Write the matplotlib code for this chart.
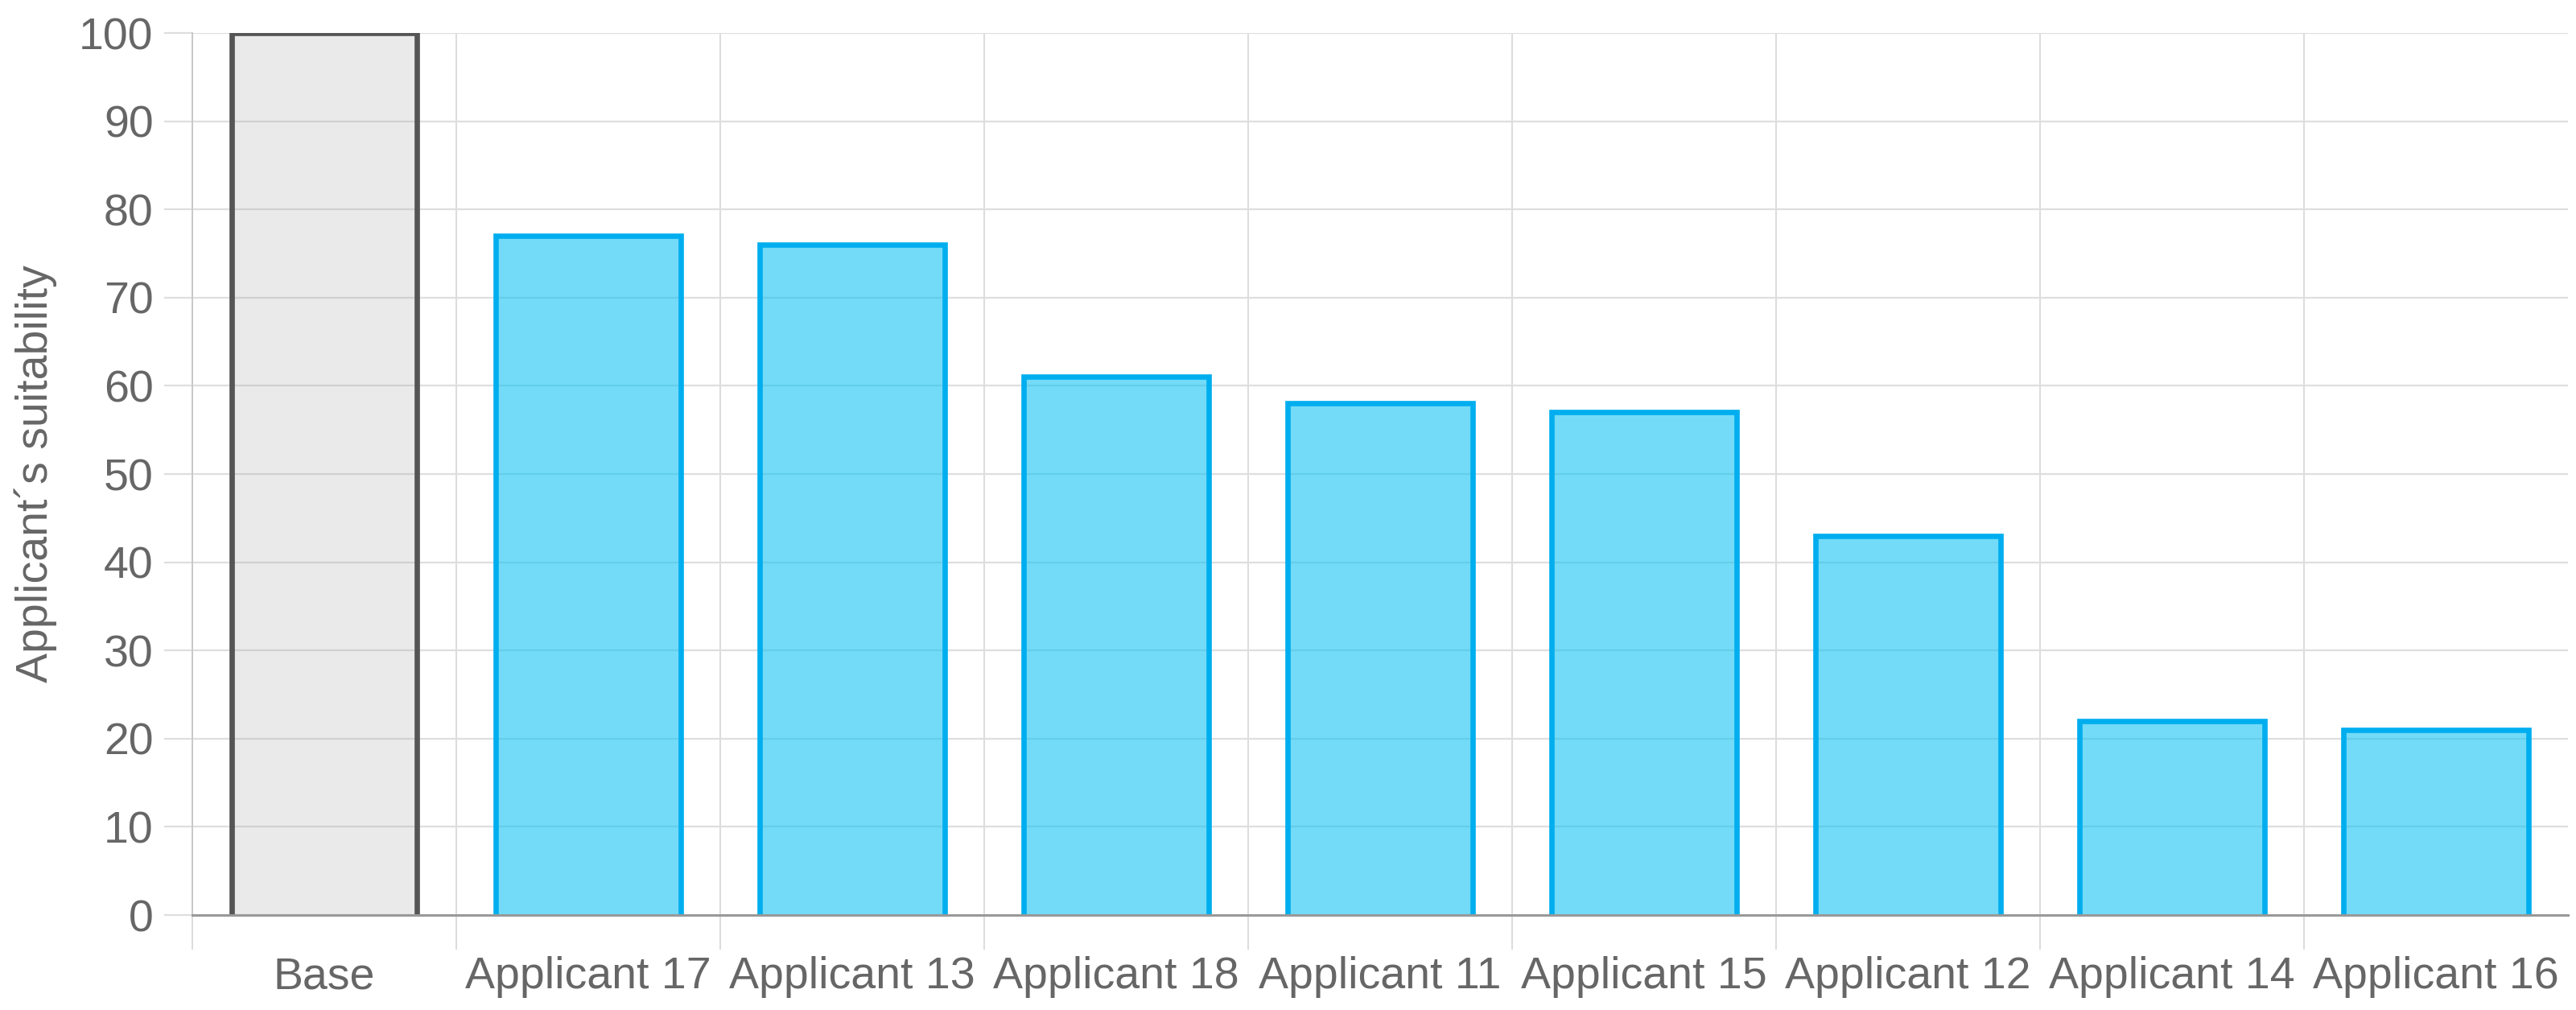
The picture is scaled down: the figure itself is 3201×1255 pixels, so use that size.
import matplotlib
matplotlib.use('Agg')
import matplotlib.pyplot as plt
import numpy as np

# datos
categorias = ['Base', 'Applicant 17', 'Applicant 13', 'Applicant 18', 'Applicant 11',
              'Applicant 15', 'Applicant 12', 'Applicant 14', 'Applicant 16']
idoneidad = [100, 77, 76, 61, 58, 57, 43, 22, 21]
ticks_y = list(range(0, 101, 10))

plt.rcParams['font.family'] = ['Liberation Sans', 'DejaVu Sans']

fig = plt.figure(figsize=(32.01, 12.55), dpi=100)
ax = fig.add_axes([0.0747, 0.094, 0.9222, 0.8733])

x = np.arange(len(categorias))
relleno = [(0.6, 0.6, 0.6, 0.2)] + [(0.0, 0.75, 0.95, 0.55)] * (len(categorias) - 1)
borde = ['#555555'] + ['#00aeef'] * (len(categorias) - 1)

barras = ax.bar(x, idoneidad, width=0.7, color=relleno, linewidth=0, zorder=2)
# contorno sin el lado de abajo (como en chart.js)
for p, c in zip(barras.patches, borde):
    x0, x1, h = p.get_x(), p.get_x() + p.get_width(), p.get_height()
    ax.plot([x0, x0, x1, x1], [0, h, h, 0], color=c, lw=4.8, zorder=3,
            solid_joinstyle='miter', solid_capstyle='butt')

ax.set_xlim(-0.5, len(categorias) - 0.5)
ax.set_ylim(0, 100)
ax.set_yticks(ticks_y)
ax.set_xticks(x)
ax.set_xticklabels(categorias)
ax.set_xticks(np.arange(-0.5, len(categorias) - 1, 1), minor=True)

ax.grid(axis='y', which='major', color='#dedede', lw=1.6, zorder=0)
ax.grid(axis='x', which='minor', color='#dcdcdc', lw=1.4, zorder=0)
ax.set_axisbelow(True)

ax.tick_params(axis='y', which='major', length=25, width=1.6, color='#dedede',
               labelsize=40, labelcolor='#666666', pad=10)
ax.tick_params(axis='x', which='major', length=0, labelsize=40,
               labelcolor='#666666', pad=37)
ax.tick_params(axis='x', which='minor', length=31, width=1.4, color='#dcdcdc')

for s in ['top', 'right']:
    ax.spines[s].set_visible(False)
ax.spines['left'].set_color('#c8c8c8')
ax.spines['left'].set_linewidth(1.4)
ax.spines['bottom'].set_color('#999999')
ax.spines['bottom'].set_linewidth(2.2)
ax.spines['bottom'].set_zorder(4)

ax.set_ylabel('Applicant´s suitability', fontsize=40, color='#666666')
ax.yaxis.set_label_coords(-0.057, 0.5)

fig.savefig('out.png', dpi=100)
